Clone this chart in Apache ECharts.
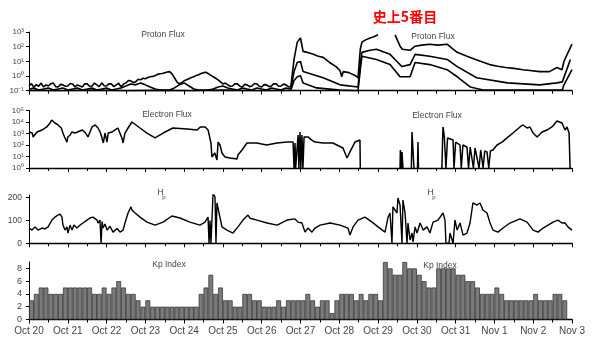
<!DOCTYPE html>
<html><head><meta charset="utf-8">
<script src="https://cdn.jsdelivr.net/npm/echarts@6/dist/echarts.min.js"></script>
<style>html,body{margin:0;padding:0;background:#fff}#c{width:603px;height:359px}</style>
</head><body><div id="c"></div>
<script>
// x values are hours since Oct 20 00:00 UT
const dayLabels = ['Oct 20','Oct 21','Oct 22','Oct 23','Oct 24','Oct 25','Oct 26','Oct 27','Oct 28','Oct 29','Oct 30','Oct 31','Nov 1','Nov 2','Nov 3'];

// Kp, 3-hour values
const kpFirstWeek = [3,4,5,5,4,4,4,5, 5,5,5,5,5,4,4,5, 4,5,6,5,4,4,3,2, 3,2,2,2,2,2,2,2, 2,2,2,4,5,7,4,5, 3,3,2,2,4,4,3,3, 2,2,2,3,2,3,3,3];
const kpSecondWeek = [3,4,3,2,3,3,1,3, 4,4,4,3,4,3,4,4, 3,9,8,7,7,9,8,8, 7,6,5,5,8,8,8,8, 7,7,6,6,5,4,4,4, 5,4,3,3,3,3,3,3, 4,3,3,3,4,4,3,null];

// Proton flux channels [hour, flux]
const protonP10 = [
[0,0.21],[1.5,0.3],[3,0.17],[4.5,0.26],[6,0.2],[7.5,0.33],[9,0.18],[10.5,0.25],[12,0.21],[13.5,0.3],[15,0.34],[16.5,0.19],[18,0.18],[19.5,0.27],[21,0.25],[22.5,0.2],[24,0.21],[25.5,0.31],[27,0.29],[28.5,0.18],[30,0.25],[31.5,0.21],[33,0.18],[34.5,0.3],[36,0.29],[37.5,0.2],[39,0.21],[40.5,0.33],[42,0.25],[43.5,0.19],[45,0.34],[46.5,0.22],[48,0.21],[49.5,0.3],[51,0.29],[52.5,0.19],[54,0.25],[55.5,0.32],[57,0.18],[58.5,0.28],
[60,0.34],[61.5,0.5],[63,0.47],[64.5,0.36],[66,0.4],[67.5,0.6],[69,0.55],[70.5,0.7],[72,0.65],[73.5,0.8],[75,0.89],[76.5,0.95],[78,1.05],[79.5,1.3],[81,1.44],[82.5,1.5],[84,1.7],[85.5,1.9],[87,2.0],[88.5,1.4],[90,0.76],[91.5,0.4],[93,0.29],[94.5,0.36],[96,0.47],[97.5,0.55],[99,0.65],[100.5,0.8],[102,0.89],[103.5,1.1],[105,1.23],[106.5,1.5],[108,1.7],[109.5,1.8],[111,1.44],[112.5,1.1],[114,0.89],[115.5,0.7],[117,0.55],[118.5,0.4],[120,0.29],
[121.5,0.33],[123,0.25],[124.5,0.2],[126,0.21],[127.5,0.3],[129,0.29],[130.5,0.2],[132,0.18],[133.5,0.27],[135,0.25],[136.5,0.19],[138,0.21],[139.5,0.31],[141,0.29],[142.5,0.2],[144,0.18],[145.5,0.26],[147,0.25],[148.5,0.19],[150,0.21],[151.5,0.3],[153,0.29],[154.5,0.2],[156,0.21],[157.5,0.28],[159,0.25],[160.5,0.19],[162,0.18],[164,13.5],[166,204],[168,390],[169,330],
[169.6,48],[172,41],[176,30],[179,22],[182,18.7],[186,8.4],[190,4.4],[192.5,2.3],[193.5,0.89],[194.5,2.0],[198,1.7],[202,1.05],[203.6,0.76],[205,67],[206,204],[208,280],[211,390],[213,460],[216,640],[220,null],
[226.5,640],[229.6,108],[231,67],[235.8,57],[238.9,108],[243,127],[248,148],[253,127],[258.7,148],[262.4,67],[265,41],[271,22],[278,11.5],[285,6.0],[290,4.6],[295,3.8],[300,3.3],[305.7,2.7],[310,2.4],[316,2.0],[322,2.0],[326.7,3.8],[329.8,2.7],[331,9.8],[333,30],[336,148]
];
const protonP50 = [
[0,0.13],[3,0.155],[6,0.11],[9,0.13],[12,0.155],[15,0.11],[18,0.13],[21,0.155],[24,0.11],[27,0.13],[30,0.155],[33,0.11],[36,0.13],[39,0.155],[42,0.11],[45,0.13],[48,0.155],[51,0.11],[54,0.13],[57,0.155],
[60,0.21],[63,0.29],[66,0.25],[69,0.34],[72,0.25],[75,0.18],[78,0.13],[81,0.11],[84,0.11],[87,0.11],[90,0.155],[93,0.25],[96,0.34],[99,0.21],[102,0.13],[105,0.11],[108,0.11],[111,0.11],[114,0.13],[117,0.18],[120,0.21],
[123,0.155],[126,0.13],[129,0.11],[132,0.155],[135,0.13],[138,0.11],[141,0.155],[144,0.13],[147,0.11],[150,0.155],[153,0.13],[156,0.11],[159,0.155],[162,0.13],[164,2.0],[166,8.4],[168,9.8],[169,8.4],
[169.6,2.0],[176,1.23],[182,0.76],[192.5,0.25],[203.6,0.18],[205,6.0],[206,41],[211,57],[215,67],[223.4,30],[227.7,9.8],[230.8,4.4],[235.8,6.0],[238.9,30],[248,22],[258.7,13.5],[265,4.4],[277,0.76],[296,0.34],[316,0.25],[326.7,0.34],[330,0.4],[335,13.5]
];
const protonP100 = [
[0,0.105],[20,0.1],[40,0.11],[60,0.1],[80,0.105],[100,0.1],[120,0.11],[140,0.1],[162,0.105],[164,0.5],[166,0.89],[168,1.05],[169,0.89],
[169.6,0.34],[178,0.155],[192.5,0.11],[203.6,0.1],[205,2.7],[206,22],[215,13.5],[223.4,6.0],[229.6,0.89],[235.8,0.89],[238.9,8.4],[248,6.0],[258.7,2.7],[265,0.89],[273,0.18],[281,0.11],[300,0.11],[330,0.11],[331,0.25],[336,2.7]
];

// Electron flux [hour, flux]
const electronFlux = [
[0,1350],[2,1100],[2.5,500],[5,1350],[8,2000],[11,3700],[13,8200],[14,14800],[16,8200],[18,5500],[20,3000],[21,1100],[22,500],[23.5,180],[24,500],[25.5,740],[26.5,1350],[28.5,1100],[30,1350],[33,2000],[35,1100],[36.5,500],[39,3700],[41,5500],[42.7,3000],[44,1350],[45,500],[46,150],[47,1100],[48.3,180],[49,1100],[51.4,1350],[53,2000],[55,3000],[57.5,410],[58.2,150],[59.4,1100],[61.3,3000],[63.7,10000],[64.4,8200],[68.7,3000],[73,1100],[78,410],[83,1100],[89,3000],[98,2450],[104,2000],[106,3700],[109,3700],[110.8,2000],[112.6,150],[113.2,9],[115,20],[116.3,5],[117,180],[118.2,100],[119.4,20],[121.3,9],[124.4,7.4],[128.7,6],[129.3,13.5],[131.8,37],[134.9,150],[141,150],[147,100],[153.5,150],[159.7,180],[163.4,180],[164,1],[164.6,150],[165,1],[165.8,1],
[166.5,740],[167,1],[167.7,1350],[168.2,1],[168.9,740],[169.5,1],[170.2,500],[170.8,410],[172.6,500],[175,270],[177,180],[182,148],[188,148],[194.3,55],[196.8,7.4],[198.6,25],[201.7,180],[204.8,270],[205,1],[205.5,null],
[229.6,1],[229.8,37],[230.4,1],[230.8,25],[231.4,1],[231.6,null],[236.6,1],[237,1350],[237.6,1100],[238.2,1],[238.4,null],[240.4,1],[240.7,180],[241,1],[241.2,null],
[255.5,1],[256,740],[256.2,3700],[257,500],[258,1],[259,410],[259.3,410],[262.4,270],[263,1],[264,180],[266.7,100],[267.5,1],[268.5,100],[271,67],[272,1],[273,67],[275,1],[276,55],[277.2,37],[278.5,1],[279.5,37],[281,1],[282,30],[283.4,25],[284.5,1],[285.5,30],[287.1,37],[289.6,100],[292.7,180],[295.8,410],[299.5,1100],[303.8,3700],[305.7,5500],[308.2,3000],[310,3700],[311.9,1100],[314.4,500],[317.5,1350],[320.5,2000],[323.6,3700],[326.7,12300],[329.8,8200],[331.7,2000],[332.9,3700],[334.2,1100],[334.8,1]
];

// Hp index [hour, nT]
const hpIndex = [
[0,67],[1.9,58],[3.7,72],[5.6,58],[8,67],[9.9,63],[11.8,72],[14.2,102],[16.1,115],[17.9,124],[19.2,128],[20.4,115],[21,80],[22.3,58],[23.5,72],[24.1,45],[25.4,80],[26.6,58],[27.8,80],[29.7,67],[31.6,80],[33.4,89],[35.9,102],[37.7,111],[39.6,115],[42.1,102],[42.7,89],[43.9,102],[44.6,0],[45.2,95],[45.8,67],[47,85],[48.3,58],[50.1,75],[52,49],[54.5,65],[56.3,49],[58.2,58],[59.4,89],[61.3,133],[63.1,160],[63.7,146],[65.6,133],[68.7,115],[73,93],[78,80],[82.9,93],[88.5,120],[93.4,111],[99.6,93],[105.8,80],[108.9,93],[110.8,115],[111.4,0],[112,100],[112.6,0],[113.9,220],[115.1,203],[115.7,0],[116.3,177],[117.6,133],[119.4,72],[122.5,58],[126.2,45],[129.3,72],[132.4,102],[135.5,124],[136.8,110],[141.1,102],[147.3,89],[153.5,80],[159.7,102],[164.6,107],
[166.5,93],[168.9,89],[170.8,49],[172.6,67],[175.1,49],[177,67],[180.1,80],[186.3,89],[192.5,80],[197.4,67],[198.6,36],[200.5,72],[203.6,102],[207.9,115],[212.3,93],[216,72],[220.3,49],[222.2,115],[223.4,133],[224.6,0],[225.2,160],[227.7,133],[228.3,199],[229.6,168],[230.8,0],[231.4,190],[232.7,133],[233.9,0],[234.5,89],[235.8,14],[237,45],[237.6,6],[238.9,72],[240.1,45],[242,89],[243.9,58],[246.3,72],[248.1,45],[250,93],[253.1,102],[256.2,133],[257.4,102],[258,0],[259.9,0],[260.5,45],[262.4,0],[263.6,102],[264.9,58],[266.7,89],[268.6,36],[271,45],[272.9,89],[274.7,177],[277.2,168],[279.1,177],[280.9,146],[283.4,133],[285.3,89],[287.1,58],[290.2,49],[293.3,67],[297.6,89],[303.8,107],[308.2,93],[311.9,58],[315,49],[318.1,67],[324.3,93],[327.3,102],[329.8,89],[331.7,89],[333.5,72],[336,58]
];

const kpAll = kpFirstWeek.concat(kpSecondWeek);
const kpData = kpAll.map((v, i) => [1.5 + 3 * i, v]);

const SUP = {'-':'\u207B','0':'\u2070','1':'\u00B9','2':'\u00B2','3':'\u00B3','4':'\u2074','5':'\u2075'};
function powLabel(v) {
  const e = Math.round(Math.log10(v));
  return '10' + String(e).split('').map(c => SUP[c]).join('');
}

const FONT = 'Liberation Sans, Arial, sans-serif';
const L = 29, R = 31;
const grids = [
  {left: L, right: R, top: 32, height: 58.7, outerBoundsMode: 'none'},
  {left: L, right: R, top: 110.5, height: 57.5, outerBoundsMode: 'none'},
  {left: L, right: R, top: 195, height: 48.3, outerBoundsMode: 'none'},
  {left: L, right: R, top: 262, height: 57.5, outerBoundsMode: 'none'}
];
function mkX(i, showLabels) {
  return {
    type: 'value', gridIndex: i, min: 0, max: 336, interval: 24,
    axisLine: {show: true, onZero: false, lineStyle: {color: '#000', width: 1.4}},
    axisTick: {show: true, length: 4, lineStyle: {color: '#000', width: 1}},
    minorTick: {show: true, splitNumber: 2, length: 3, lineStyle: {color: '#000', width: 1}},
    splitLine: {show: false},
    axisLabel: {show: showLabels, formatter: v => dayLabels[Math.round(v / 24)] || '', color: '#444', fontSize: 10, margin: 7, fontFamily: FONT}
  };
}
const yCommon = {
  axisLine: {show: true, lineStyle: {color: '#000', width: 1}},
  axisTick: {show: true, length: 3, lineStyle: {color: '#000'}},
  splitLine: {show: false}
};
const yAxes = [
  Object.assign({}, yCommon, {type: 'log', logBase: 10, gridIndex: 0, min: 0.1, max: 1000,
    axisLabel: {formatter: powLabel, color: '#444', fontSize: 8, margin: 5, fontFamily: FONT}}),
  Object.assign({}, yCommon, {type: 'log', logBase: 10, gridIndex: 1, min: 1, max: 100000,
    axisLabel: {formatter: powLabel, color: '#444', fontSize: 8, margin: 5, fontFamily: FONT}}),
  Object.assign({}, yCommon, {type: 'value', gridIndex: 2, min: 0, max: 212, interval: 100,
    axisLabel: {showMaxLabel: false, color: '#444', fontSize: 8.5, margin: 7, fontFamily: FONT}}),
  Object.assign({}, yCommon, {type: 'value', gridIndex: 3, min: 0, max: 9, interval: 2,
    axisLabel: {showMaxLabel: false, color: '#444', fontSize: 9, margin: 7, fontFamily: FONT}})
];

function line(data, idx, w) {
  return {type: 'line', xAxisIndex: idx, yAxisIndex: idx, data: data, symbol: 'none', connectNulls: false,
    lineStyle: {color: '#000', width: w}, animation: false, silent: true};
}

const titleStyle = {fontSize: 8.5, fill: '#444', fontFamily: FONT, align: 'center', verticalAlign: 'middle'};
function txt(t, x, y, extra) {
  return {type: 'text', x: x, y: y, style: Object.assign({}, titleStyle, {text: t}, extra || {})};
}

const option = {
  backgroundColor: '#fff',
  animation: false,
  grid: grids,
  xAxis: [mkX(0, false), mkX(1, false), mkX(2, false), mkX(3, true)],
  yAxis: yAxes,
  series: [
    line(protonP100, 0, 1.6),
    line(protonP50, 0, 1.6),
    line(protonP10, 0, 1.6),
    line(electronFlux, 1, 1.5),
    line(hpIndex, 2, 1.4),
    {type: 'bar', xAxisIndex: 3, yAxisIndex: 3, data: kpData, barWidth: 4.8, animation: false, silent: true,
      itemStyle: {color: '#7a7a7a', borderColor: '#2a2a2a', borderWidth: 0.7}}
  ],
  graphic: [
    txt('Proton Flux', 163, 35),
    txt('Proton Flux', 433, 37),
    txt('Electron Flux', 167, 115),
    txt('Electron Flux', 437, 116),
    txt('H', 160.5, 193),
    txt('p', 164, 197.5, {fontSize: 6}),
    txt('H', 430.5, 193),
    txt('p', 434, 197.5, {fontSize: 6}),
    txt('Kp Index', 169, 265),
    txt('Kp Index', 440, 266),
    txt('史上5番目', 405, 17, {fontSize: 14, fill: '#f00', fontWeight: 'bold', fontFamily: 'Noto Sans CJK JP, sans-serif'})
  ]
};

const chart = echarts.init(document.getElementById('c'), null, {renderer: 'canvas', width: 603, height: 359});
chart.setOption(option);
</script>
</body></html>
